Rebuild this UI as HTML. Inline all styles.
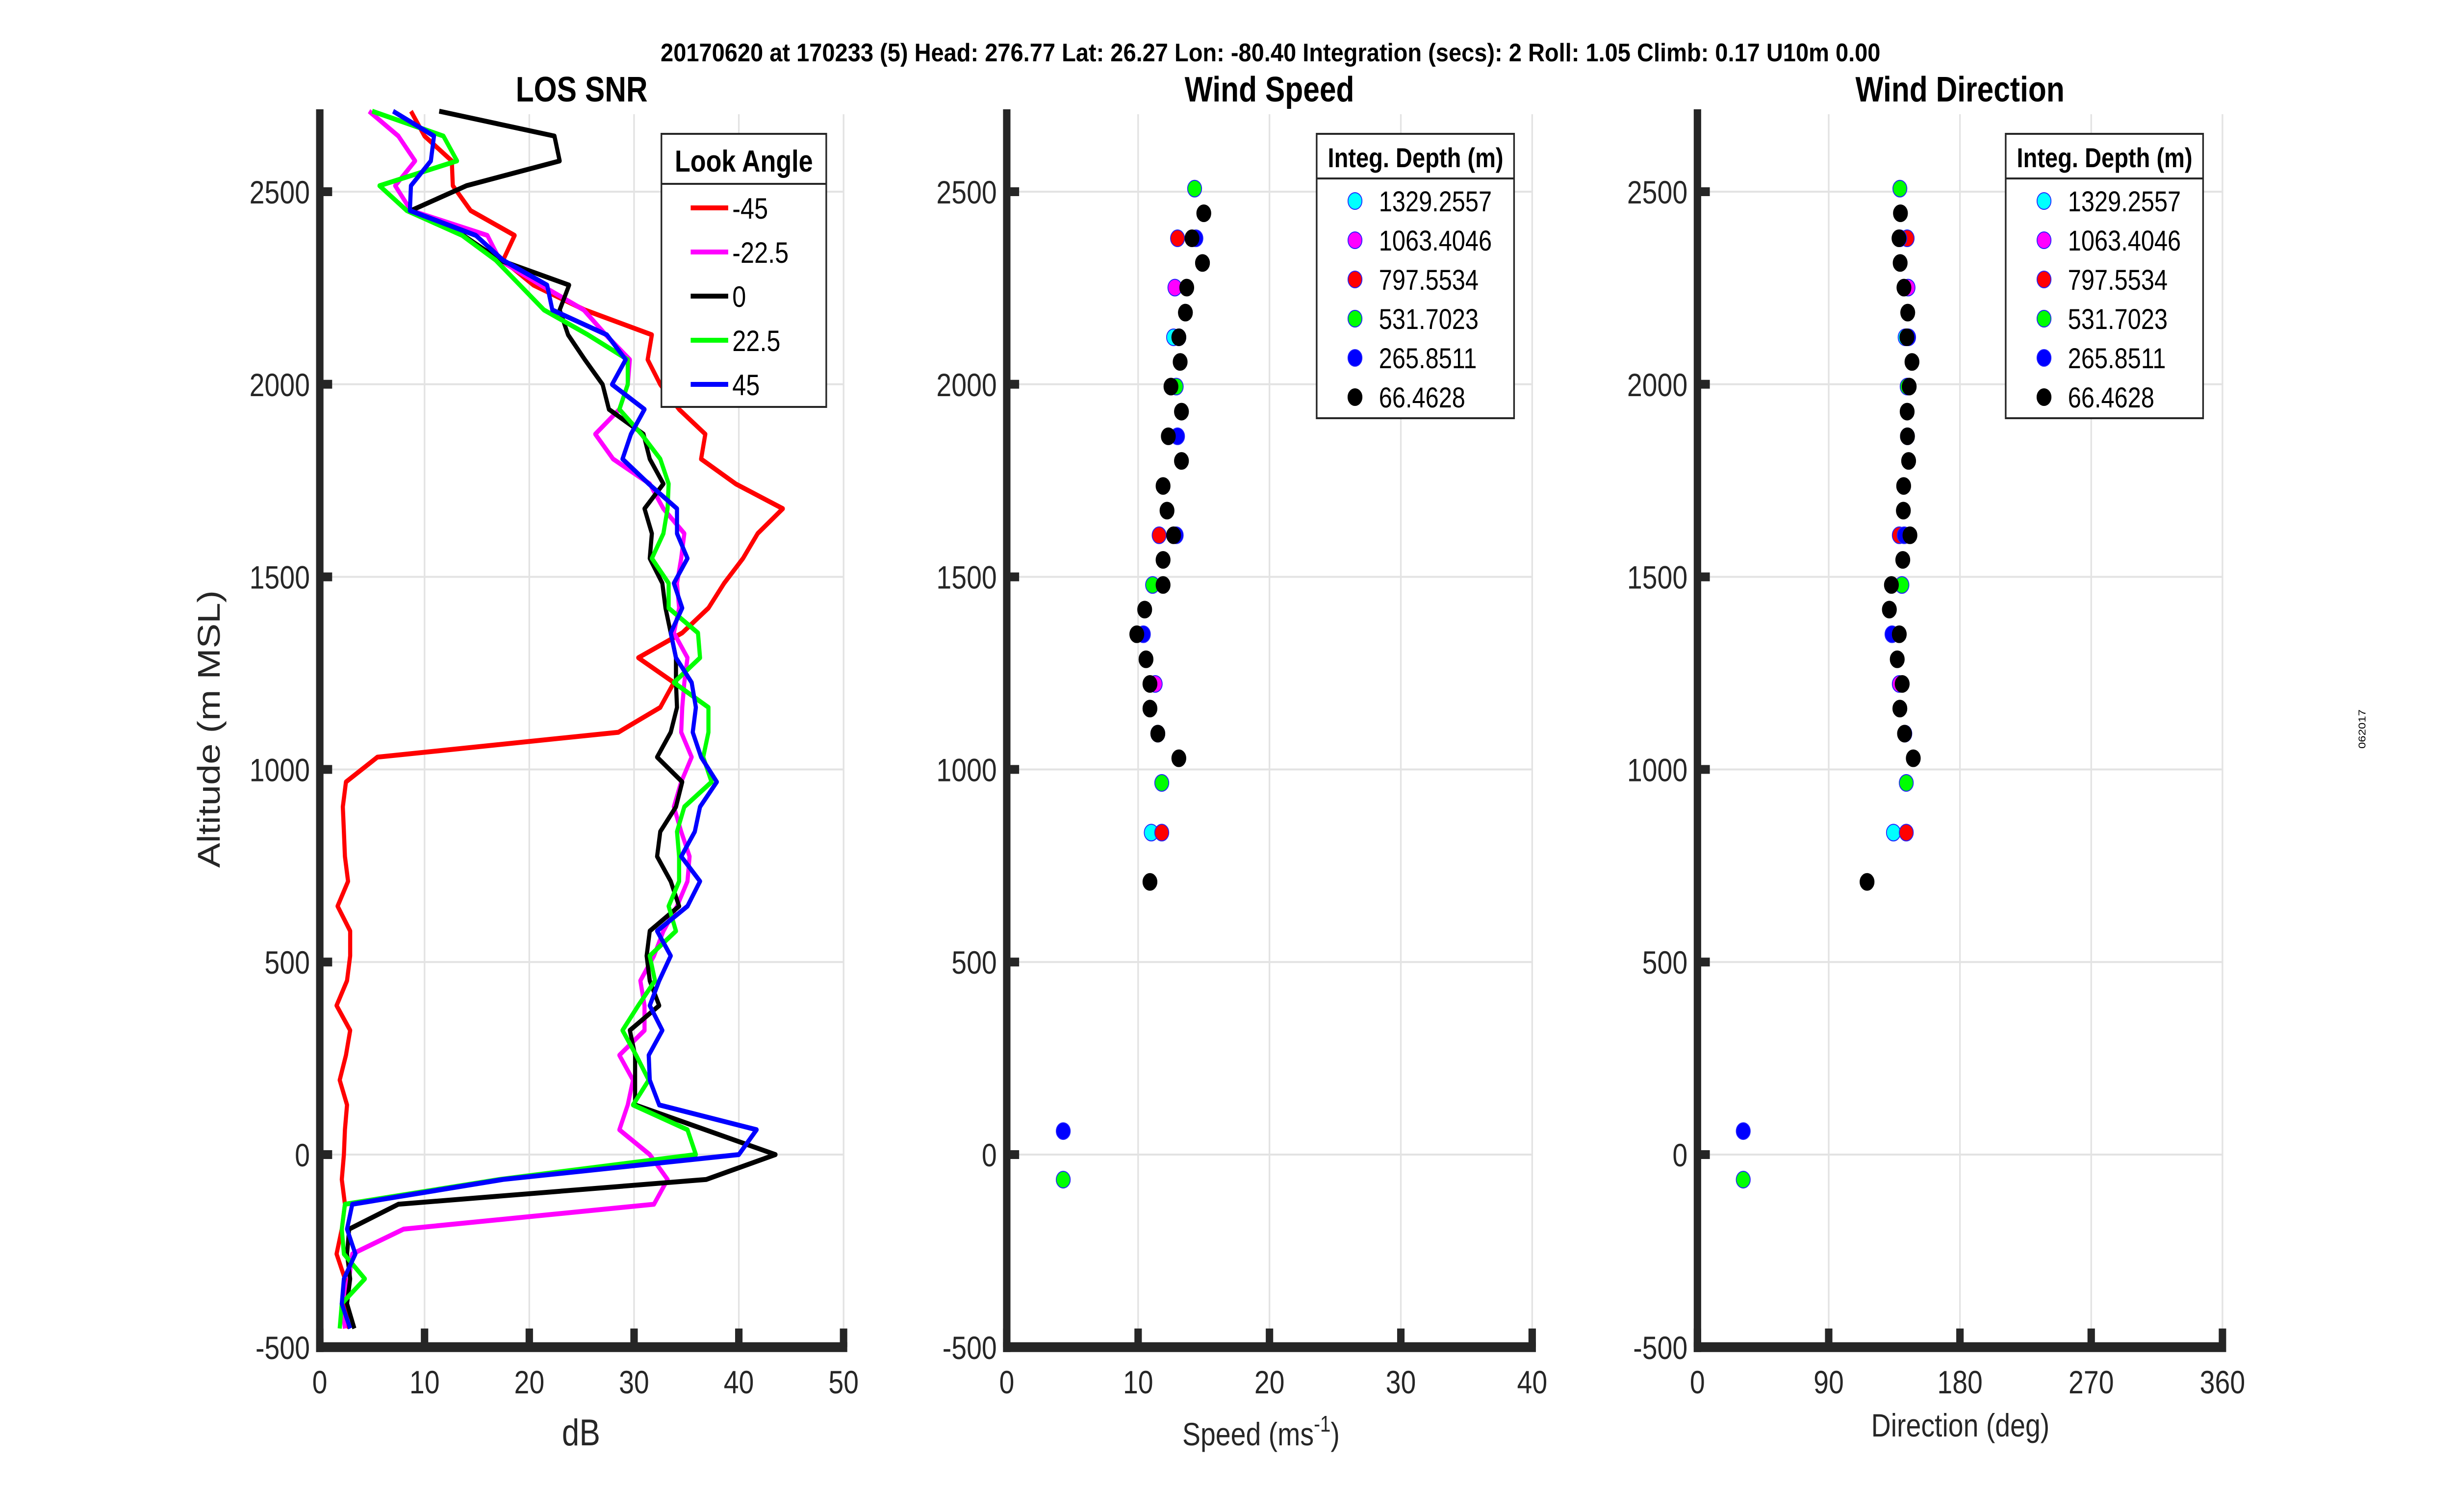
<!DOCTYPE html>
<html><head><meta charset="utf-8">
<style>
html,body{margin:0;padding:0;background:#fff;overflow:hidden;width:100vw;height:100vh;}
svg{display:block;font-family:"Liberation Sans",Arial,sans-serif;width:100vw;height:100vh;}
</style></head>
<body>
<svg id="chart" viewBox="0 0 5950 3084" preserveAspectRatio="none" xmlns="http://www.w3.org/2000/svg">
<rect width="5950" height="3084" fill="#fff"/>
<text x="3083" y="125" text-anchor="middle" font-size="52" font-weight="bold" textLength="2960" lengthAdjust="spacingAndGlyphs">20170620 at 170233 (5)  Head: 276.77  Lat: 26.27  Lon: -80.40  Integration (secs): 2  Roll: 1.05  Climb: 0.17  U10m 0.00</text>
<text x="5740" y="1487" font-size="24" text-anchor="middle" transform="rotate(-90 5740 1487)">062017</text>
<g id="g1"></g>
<g id="g2"></g>
<g id="g3"></g>
</svg>
<script>
// ---------- Panel 1 data (LOS SNR, dB) ----------
const snrAlt = [-451.5,-387,-322.5,-258,-193.5,-129,-64.5,0,64.5,129,193.5,258,322.5,387,451.5,516,580.5,645,709.5,774,838.5,903,967.5,1032,1096.5,1161,1225.5,1290,1354.5,1419,1483.5,1548,1612.5,1677,1741.5,1806,1870.5,1935,1999.5,2064,2128.5,2193,2257.5,2322,2386.5,2451,2515.5,2580,2644.5,2709];
const snrM45 = [2.8,2.3,2.4,1.6,2.1,2.4,2.1,2.3,2.4,2.6,1.9,2.5,2.9,1.6,2.6,2.9,2.9,1.7,2.7,2.4,2.3,2.2,2.5,5.5,28.5,32.5,33.8,30.4,34.6,37.1,38.6,40.4,41.8,44.2,39.7,36.4,36.8,34.3,32.5,31.3,31.7,25.3,20.4,17.5,18.6,14.4,12.7,12.6,10.0,8.7];
const snrM22 = [2.4,2.1,2.8,3.1,8.0,31.9,33.2,31.5,28.6,29.4,29.9,28.6,31.0,31.0,30.6,31.9,32.8,34.1,35.1,35.3,34.5,33.8,34.5,35.5,34.5,34.6,34.8,35.1,33.8,34.3,34.1,34.5,34.8,32.8,31.5,28.0,26.3,28.6,29.4,29.6,27.3,25.2,21.1,17.2,16.0,8.7,7.2,9.1,7.5,4.7];
const snr0 = [3.3,2.6,2.9,2.6,2.8,7.5,36.9,43.5,36.8,30.1,30.1,30.1,29.6,32.4,31.5,31.2,31.5,34.3,33.5,32.2,32.5,34.0,34.6,32.2,33.5,34.1,34.0,34.0,33.5,33.0,32.7,31.5,31.7,31.0,32.8,31.5,30.9,27.6,27.0,25.3,23.7,22.9,23.8,17.2,13.7,8.7,14.0,22.9,22.4,11.4];
const snrP22 = [1.9,2.1,4.3,2.3,2.1,2.4,17.2,35.9,35.1,29.9,31.4,30.2,28.9,30.4,32.0,31.5,34.0,33.3,34.3,34.3,34.1,34.8,37.4,36.6,37.1,37.1,33.8,36.3,36.1,33.3,33.3,31.7,32.8,33.2,33.3,32.5,30.7,28.6,29.4,29.4,25.6,21.4,19.1,16.8,13.6,8.3,5.7,13.1,11.8,5.0];
const snrP45 = [2.9,2.1,2.3,3.4,2.6,3.1,17.5,40.0,41.7,32.4,31.5,31.4,32.7,31.5,32.4,33.5,32.2,35.1,36.3,34.5,35.8,36.3,37.9,36.4,35.6,35.9,35.5,34.0,33.5,34.6,33.8,35.1,34.1,34.1,31.4,28.9,29.7,31.0,27.9,29.2,27.4,22.2,21.7,17.5,14.9,8.6,8.7,10.6,10.9,7.0];
const lookLabels = ["-45","-22.5","0","22.5","45"];
const lookColors = ["#ff0000","#ff00ff","#000000","#00ff00","#0000ff"];
const snrTicks = [0,10,20,30,40,50];
const altTicks = [-500,0,500,1000,1500,2000,2500];

// ---------- Panel 2/3 data ----------
const depthLabels = ["1329.2557","1063.4046","797.5534","531.7023","265.8511","66.4628"];
const depthColors = ["#00ffff","#ff00ff","#ff0000","#00ff00","#0000ff","#000000"];
const altCyan = [2122,836];
const spdCyan = [12.7,11.0];
const dirCyan = [142.4,134.4];
const altMag = [2251,1222];
const spdMag = [12.8,11.3];
const dirMag = [144.4,138.4];
const altRed = [2379,1608,836];
const spdRed = [13.0,11.6,11.8];
const dirRed = [143.8,138.4,143.2];
const altGreen = [2508,1994,1479,965,-65];
const spdGreen = [14.3,12.9,11.1,11.8,4.3];
const dirGreen = [138.8,143.8,140.2,143.2,31.4];
const altBlue = [2379,2122,1865,1608,1351,1093,61];
const spdBlue = [14.4,13.1,13.0,12.9,10.4,11.5,4.3];
const dirBlue = [138.8,144.8,144.0,141.8,133.4,142.2,31.4];
const altBlack = [2444,2379,2315,2251,2186,2122,2058,1994,1929,1865,1801,1736,1672,1608,1544,1479,1415,1351,1286,1222,1158,1093,1029,708];
const spdBlack = [15.0,14.1,14.9,13.7,13.6,13.1,13.2,12.5,13.3,12.3,13.3,11.9,12.2,12.7,11.9,11.9,10.5,9.9,10.6,10.9,10.9,11.5,13.1,10.9];
const dirBlack = [139.2,138.2,139.0,141.6,144.2,143.6,147.1,145.2,143.8,144.0,144.8,141.4,141.2,145.7,140.8,133.0,131.6,138.4,137.0,140.4,138.8,142.0,148.0,116.3];
const spdTicks = [0,10,20,30,40];
const dirTicks = [0,90,180,270,360];

const NS = "http://www.w3.org/2000/svg";
function mk(parent, tag, attrs, text){
  const e = document.createElementNS(NS, tag);
  for (const k in attrs) e.setAttribute(k, attrs[k]);
  if (text !== undefined) e.textContent = text;
  parent.appendChild(e);
  return e;
}
const yA = a => 391 + (2500 - a) * 0.7856;
const TOP = yA(2714), BOT = yA(-500);

function axes(g, x0, x1, xmin, xmax, ticks){
  const xs = v => x0 + (v - xmin) / (xmax - xmin) * (x1 - x0);
  ticks.forEach(t => {
    const gl = mk(g, "line", {x1: xs(t), x2: xs(t), y1: TOP + 10, y2: BOT, stroke: "#e3e3e3", "stroke-width": 4});
    
    
  });
  altTicks.forEach(a => {
    const gl = mk(g, "line", {x1: x0, x2: x1, y1: yA(a), y2: yA(a), stroke: "#e3e3e3", "stroke-width": 4});
    
    
  });
  return xs;
}
function axisFrame(g, x0, x1, xs, ticks, title){
  const ax = mk(g, "line", {x1: x0, x2: x0, y1: TOP, y2: BOT + 10, stroke: "#262626", "stroke-width": 18});
  
  
  const bx = mk(g, "line", {x1: x0 - 9, x2: x1 + 9, y1: BOT, y2: BOT, stroke: "#262626", "stroke-width": 20});
  
  
  ticks.forEach(t => {
    const tk = mk(g, "line", {x1: xs(t), x2: xs(t), y1: BOT, y2: BOT - 38, stroke: "#262626", "stroke-width": 18});
    
    
    const tl = mk(g, "text", {x: xs(t), y: 2842, "text-anchor": "middle", "font-size": 66, fill: "#262626"}, String(t));
    
    
  });
  altTicks.forEach(a => {
    const tk = mk(g, "line", {x1: x0, x2: x0 + 30, y1: yA(a), y2: yA(a), stroke: "#262626", "stroke-width": 18});
    
    
    const tl = mk(g, "text", {x: x0 - 24, y: yA(a) + 24, "text-anchor": "end", "font-size": 66, fill: "#262626"}, String(a));
    
    
  });
  const tt = mk(g, "text", {x: (x0 + x1) / 2, y: 207, "text-anchor": "middle", "font-size": 72, "font-weight": "bold"}, title);
  
  
}

// ---------- Panel 1 ----------
const g1 = document.getElementById("g1");
const p1x0 = 776, p1x1 = 2047;
const xs1 = axes(g1, p1x0, p1x1, 0, 50, snrTicks);
const snrSeries = [snrM45, snrM22, snr0, snrP22, snrP45];
snrSeries.forEach((s, i) => {
  const pts = s.map((v, j) => xs1(v).toFixed(1) + "," + yA(snrAlt[j]).toFixed(1)).join(" ");
  const pl = mk(g1, "polyline", {points: pts, fill: "none", stroke: lookColors[i], "stroke-width": 10, "stroke-linejoin": "round"});
  
  
});
axisFrame(g1, p1x0, p1x1, xs1, snrTicks, "LOS SNR");
const xl1 = mk(g1, "text", {x: 1410, y: 2948, "text-anchor": "middle", "font-size": 76, fill: "#262626"}, "dB");


const yl1 = mk(g1, "text", {x: 520, y: 1500, "text-anchor": "middle", "font-size": 76, fill: "#262626", transform: "rotate(-90 520 1487)"}, "Altitude (m MSL)");


const lg1 = mk(g1, "g", {});


mk(lg1, "rect", {x: 1605, y: 273, width: 400, height: 557, fill: "#fff", stroke: "#262626", "stroke-width": 4});
mk(lg1, "line", {x1: 1605, x2: 2005, y1: 375, y2: 375, stroke: "#262626", "stroke-width": 4});
mk(lg1, "text", {x: 1805, y: 350, "text-anchor": "middle", "font-size": 62, "font-weight": "bold"}, "Look Angle");
lookLabels.forEach((l, i) => {
  const yy = 424 + i * 90;
  const ln = mk(lg1, "line", {x1: 1676, x2: 1767, y1: yy, y2: yy, stroke: lookColors[i], "stroke-width": 10});
  
  
  const tx = mk(lg1, "text", {x: 1777, y: yy + 22, "font-size": 60}, l);
  
  
});

// ---------- Scatter panels ----------
function scatterPanel(g, x0, x1, xmax, ticks, title, vals, legendX, name){
  const xs = axes(g, x0, x1, 0, xmax, ticks);
  const alts = [altCyan, altMag, altRed, altGreen, altBlue, altBlack];
  vals.forEach((arr, i) => {
    arr.forEach((v, j) => {
      const c = mk(g, "ellipse", {cx: xs(v), cy: yA(alts[i][j]), rx: 17, ry: 17, fill: depthColors[i], stroke: i === 5 ? "#000" : "#2020ff", "stroke-width": 2});
      
      
    });
  });
  axisFrame(g, x0, x1, xs, ticks, title);
  const lg = mk(g, "g", {});
  
  
  mk(lg, "rect", {x: legendX, y: 273, width: 479, height: 580, fill: "#fff", stroke: "#262626", "stroke-width": 4});
  mk(lg, "line", {x1: legendX, x2: legendX + 479, y1: 364, y2: 364, stroke: "#262626", "stroke-width": 4});
  mk(lg, "text", {x: legendX + 240, y: 341, "text-anchor": "middle", "font-size": 56, "font-weight": "bold"}, "Integ. Depth (m)");
  depthLabels.forEach((l, i) => {
    const yy = 410 + i * 80;
    const m = mk(lg, "ellipse", {cx: legendX + 93, cy: yy, rx: 17, ry: 17, fill: depthColors[i], stroke: i === 5 ? "#000" : "#2020ff", "stroke-width": 2});
    
    
    const tx = mk(lg, "text", {x: legendX + 151, y: yy + 21, "font-size": 58}, l);
    
    
  });
}
const g2 = document.getElementById("g2");
scatterPanel(g2, 2443, 3718, 40, spdTicks, "Wind Speed", [spdCyan, spdMag, spdRed, spdGreen, spdBlue, spdBlack], 3195, "speed");
const xl2 = mk(g2, "text", {x: 3060, y: 2948, "text-anchor": "middle", "font-size": 66, fill: "#262626"});


mk(xl2, "tspan", {}, "Speed (ms");
mk(xl2, "tspan", {dy: -28, "font-size": 46}, "-1");
mk(xl2, "tspan", {dy: 28}, ")");
const g3 = document.getElementById("g3");
scatterPanel(g3, 4119, 5393, 360, dirTicks, "Wind Direction", [dirCyan, dirMag, dirRed, dirGreen, dirBlue, dirBlack], 4867, "direction");
const xl3 = mk(g3, "text", {x: 4757, y: 2930, "text-anchor": "middle", "font-size": 66, fill: "#262626"}, "Direction (deg)");


</script>
</body></html>
